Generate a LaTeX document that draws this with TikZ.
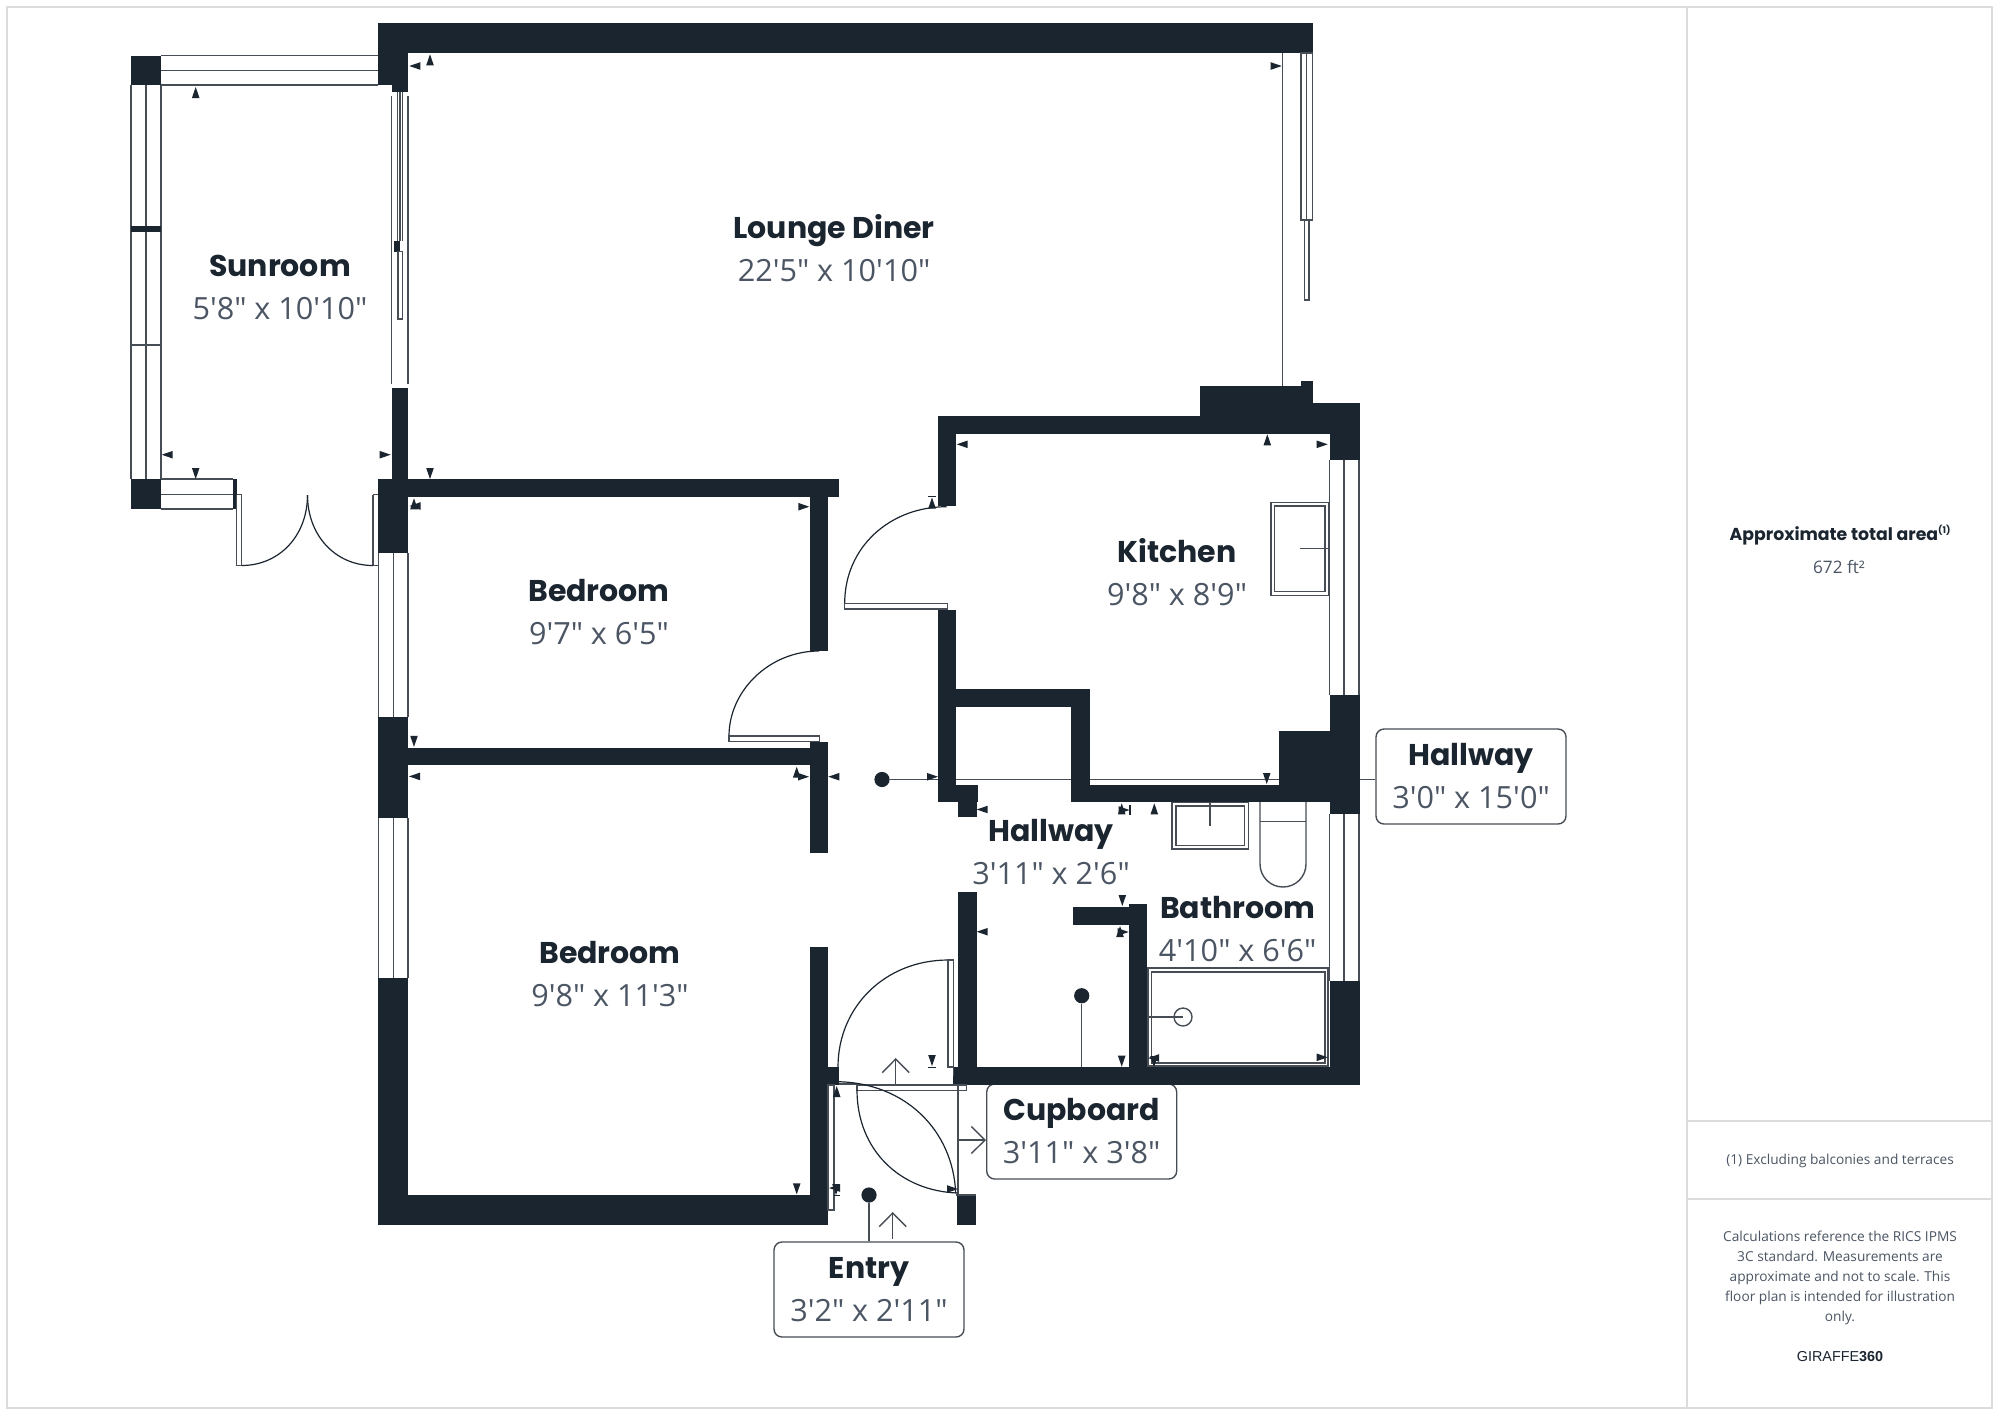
\documentclass[tikz,border=0pt]{standalone}
\usepackage{fontspec}
\usetikzlibrary{arrows.meta}
\setmainfont{Open Sans}
\newfontfamily\ttlfam{Poppins}
\newfontfamily\dimfam{Open Sans}
\newfontfamily\brandfam{Liberation Sans}
\definecolor{wallc}{HTML}{1B2530}
\definecolor{linec}{HTML}{474D55}
\definecolor{greytext}{HTML}{4B5563}
\definecolor{framec}{HTML}{DCDCDC}
\newcommand\ttl{\ttlfam\bfseries\fontsize{15}{21.5}\selectfont\color{wallc}}
\newcommand\dmn{\dimfam\fontsize{15.3}{21.5}\selectfont\color{greytext}}
\newcommand\roomtext[2]{{\ttl #1}\\{\dmn #2}}
\newcommand\wall[4]{\fill[wallc] (#1,#2) rectangle (#3,#4);}
\newcommand\tU[2]{\fill[wallc] (#1,#2) -- ++(-3.8,11) -- ++(7.6,0) -- cycle;}
\newcommand\tD[2]{\fill[wallc] (#1,#2) -- ++(-3.8,-11) -- ++(7.6,0) -- cycle;}
\newcommand\tL[2]{\fill[wallc] (#1,#2) -- ++(11,-3.8) -- ++(0,7.6) -- cycle;}
\newcommand\tR[2]{\fill[wallc] (#1,#2) -- ++(-11,-3.8) -- ++(0,7.6) -- cycle;}
\tikzset{
  ln/.style={draw=linec,line width=0.7pt},
  arcln/.style={draw=wallc,line width=0.6pt},
  frameln/.style={draw=framec,line width=1pt},
  tag/.style={draw=linec,line width=0.7pt,fill=white,rounded corners=4pt,align=center,inner sep=0pt,minimum width=95pt,minimum height=47.5pt,font=\fontsize{15.3}{21.5}\selectfont},
  room/.style={align=center,inner sep=0pt,font=\fontsize{15.3}{21.5}\selectfont},
  dot/.style={circle,fill=wallc,inner sep=0pt,minimum size=7.6pt},
  barb/.style={ln,-{Straight Barb[length=6.8pt,width=13.5pt,line width=0.7pt]}},
  note/.style={align=center,inner sep=0pt,color=greytext,font=\dimfam\fontsize{6.85}{9.9}\selectfont}
}
\begin{document}
\begin{tikzpicture}[x=0.5pt,y=-0.5pt]
\useasboundingbox (0,0) rectangle (2000,1415);
\fill[white] (0,0) rectangle (2000,1415);
% outer frame
\draw[frameln] (7,7) rectangle (1991.5,1408);
\draw[frameln] (1687,7) -- (1687,1408);
\draw[frameln] (1687,1121) -- (1991.5,1121);
\draw[frameln] (1687,1199) -- (1991.5,1199);
% labels
\node[tag] (hallwayTag) at (1471,776.5) {\roomtext{Hallway}{3'0" x 15'0"}};
\node[tag] (cupboardTag) at (1081.7,1131.5) {\roomtext{Cupboard}{3'11" x 3'8"}};
\node[tag] (entryTag) at (869,1289.5) {\roomtext{Entry}{3'2" x 2'11"}};
\node[room] (lounge) at (834,248.5) {\roomtext{Lounge Diner}{22'5" x 10'10"}};
\node[room] (sunroom) at (280,287) {\roomtext{Sunroom}{5'8" x 10'10"}};
\node[room] (bedroomA) at (599,612) {\roomtext{Bedroom}{9'7" x 6'5"}};
\node[room] (bedroomB) at (610,974) {\roomtext{Bedroom}{9'8" x 11'3"}};
\node[room] (kitchen) at (1177,572) {\roomtext{Kitchen}{9'8" x 8'9"}};
\node[room] (hallwayB) at (1051,852) {\roomtext{Hallway}{3'11" x 2'6"}};
\node[room] (bathroom) at (1237.7,929) {\roomtext{Bathroom}{4'10" x 6'6"}};
% connectors
\node[dot] (hallwayDot) at (882,779.5) {};
\node[dot] (cupDot) at (1081.7,995.7) {};
\node[dot] (entryDot) at (869,1195) {};
\coordinate (cupFoot) at (1081.7,1068);
\draw[ln] (hallwayDot) -- (hallwayDot -| hallwayTag.west);
\draw[ln] (cupDot) -- (cupFoot);
\draw[ln] (entryDot) -- (entryDot |- entryTag.north);
\coordinate (cupRailTop) at (958,1085);
\coordinate (cupRailEnd) at (958,1195);
\draw[ln] (cupRailTop) -- (cupRailEnd);
\coordinate (cupBranch) at (958,1140);
\draw[barb] (cupBranch) -- (cupBranch -| cupboardTag.west);
\coordinate (cupUpA) at (895.7,1085);
\coordinate (cupUpB) at (895.7,1058);
\draw[barb] (cupUpA) -- (cupUpB);
\coordinate (entUpA) at (892.7,1239);
\coordinate (entUpB) at (892.7,1212);
\draw[barb] (entUpA) -- (entUpB);
% walls
\wall{378}{23}{1313}{53}
\wall{378}{23}{408}{85}
\wall{391.5}{85}{408}{92}
\wall{131}{55.5}{161}{85}
\wall{131}{479}{161}{509}
\wall{233}{479}{236.5}{509}
\wall{391.5}{388}{408}{480}
\wall{378}{479}{408}{553}
\wall{408}{479}{839}{497}
\wall{378}{717}{408}{818}
\wall{378}{978}{408}{1225}
\wall{378}{1195}{828}{1225}
\wall{408}{748}{828}{765}
\wall{810}{497}{828}{651}
\wall{810}{742}{828}{853}
\wall{810}{947}{828}{1225}
\wall{828}{1067}{839}{1085}
\wall{938}{416}{956}{506}
\wall{938}{609.5}{956}{802}
\wall{938}{785}{977.5}{802}
\wall{958}{802}{976.5}{817}
\wall{938}{416}{1329}{434}
\wall{1200}{386}{1313}{434}
\wall{1300.7}{380.5}{1313}{390}
\wall{1300}{403}{1359.5}{434}
\wall{1329.5}{403}{1359.5}{460}
\wall{1329.5}{695}{1359.5}{814}
\wall{1279}{731}{1329.5}{802}
\wall{1071}{785}{1330}{802}
\wall{1071}{689}{1090}{802}
\wall{956}{689}{1090}{707}
\wall{1329.5}{981}{1359.5}{1085}
\wall{953}{1067}{1359.5}{1085}
\wall{958}{892}{976.5}{1067}
\wall{1129}{904}{1147}{1067}
\wall{1073}{907}{1129}{924.5}
\wall{956.7}{1195}{976}{1225}
% windows
\draw[ln] (161,55.5) -- (378,55.5) (161,70.5) -- (378,70.5) (161,85) -- (378,85);
\draw[ln] (131,85) -- (131,479) (146,85) -- (146,479) (161,85) -- (161,479);
\wall{131}{226}{161}{232}
\draw[ln] (131,345) -- (161,345);
\draw[ln] (161,479) -- (233,479) (161,494.5) -- (233,494.5) (161,509) -- (233,509);
\draw[ln] (378.5,553) -- (378.5,717) (393.5,553) -- (393.5,717) (408,553) -- (408,717);
\draw[ln] (378.5,818) -- (378.5,978) (393.5,818) -- (393.5,978) (408,818) -- (408,978);
\draw[ln] (1329.5,460) -- (1329.5,695) (1344,460) -- (1344,695) (1359,460) -- (1359,695);
\draw[ln] (1329.5,814) -- (1329.5,981) (1344,814) -- (1344,981) (1359,814) -- (1359,981);
% sliding door sunroom / lounge
\draw[ln] (391.7,96) -- (391.7,384) (408,96) -- (408,384);
\draw[ln] (397.7,92) -- (397.7,241) (400,92) -- (400,241) (402.3,92) -- (402.3,241);
\wall{394}{240.7}{400}{251.5}
\draw[ln] (398,251.5) rectangle (402.3,319);
% lounge right side
\draw[ln] (1282.7,53) -- (1282.7,386);
\draw[ln] (1301,53) rectangle (1312.5,220);
\draw[ln] (1306.7,53) -- (1306.7,220);
\draw[ln] (1304.5,220) rectangle (1309,300);
% sunroom french doors
\draw[ln] (236.5,494.5) -- (236.5,565.5) -- (241.5,565.5) -- (241.5,494.5) -- (236.5,494.5);
\draw[ln] (373,494.5) -- (373,565.5) -- (378,565.5) (373,494.5) -- (378,494.5);
\draw[arcln] (241.5,565.5) .. controls (280,565.5) and (307.5,535) .. (307.5,495);
\draw[arcln] (373,565.5) .. controls (335,565.5) and (307.5,535) .. (307.5,495);
% internal doors
\draw[arcln] (819,651) .. controls (769,651) and (729,691) .. (729,736);
\draw[ln,fill=white] (729,736) rectangle (819.3,741.5);
\draw[arcln] (946.7,506.7) .. controls (889,506.7) and (844.7,548) .. (844.7,603);
\draw[ln,fill=white] (844.7,603.5) rectangle (947.3,609);
\draw[arcln] (838,1067) .. controls (838,1006) and (886,960) .. (948,960);
\draw[ln] (948,960) rectangle (953.5,1067);
\draw[ln] (953.5,1067) -- (953.5,1076);
% cupboard door
\draw[ln] (857,1085) rectangle (966.7,1090.7);
\draw[ln] (839,1084) -- (857,1084);
\draw[arcln] (857,1090) .. controls (857,1150) and (900,1191) .. (957.7,1193);
\draw[arcln] (838,1081.7) .. controls (905,1083) and (953,1130) .. (955.7,1193);
\draw[ln] (828,1085) rectangle (834,1210);
\draw[ln] (956,1195) -- (976,1195);
% fixtures: kitchen sink
\draw[ln] (1271,502.3) rectangle (1329,595.3);
\draw[ln] (1274.7,506) rectangle (1325,591.3);
\draw[ln] (1300,548.7) -- (1329,548.7);
% bathroom sink
\draw[ln] (1172,802.7) rectangle (1248.7,849);
\draw[ln] (1176,806) rectangle (1244.7,845.7);
\draw[ln] (1210,803) -- (1210,826);
% toilet
\draw[ln] (1260,802) -- (1260,864) arc[start angle=180,end angle=0,radius=23] -- (1306,802);
\draw[ln] (1260,821.7) -- (1306,821.7);
% bath
\draw[ln] (1148,968) rectangle (1328,1066);
\draw[ln] (1151.7,972) rectangle (1325,1063);
\draw[ln] (1148,1017) -- (1183,1017);
\draw[ln] (1183,1017) circle[radius=9];
% dimension markers
\tU{195.7}{87}\tL{409.3}{66}\tU{430}{54.3}
\tL{161.7}{454.7}\tD{195.7}{479}\tR{390.7}{454.7}\tD{430}{479}
\tU{414}{498.3}\tL{409.5}{506}
\tR{809.3}{506.7}\tL{956.7}{444.3}\tU{932}{497.5}
\draw[draw=wallc,line width=0.7pt] (928,496.5) -- (936,496.5);
\tD{414}{746.8}\tL{409}{776.4}
\tU{796.7}{766.7}\tR{809}{776.7}\tL{828.3}{776.7}\tR{938}{776.7}\tL{976.7}{809.5}
\tU{1267.3}{434.3}\tR{1327.7}{444.3}\tR{1281.7}{66}
\tD{1266.7}{784}
\tU{1121.7}{803.3}\tR{1129.5}{810}\tU{1154.3}{803.3}
\draw[draw=wallc,line width=0.7pt] (1130,805) -- (1130,815);
\tD{1122.3}{906}\tU{1120}{926}\tR{1128.7}{932}\tL{976.7}{931.7}
\tD{1121.7}{1066.7}\tL{1148}{1058}\tD{1154}{1067}\tR{1327.7}{1057.3}
\tD{932}{1066}
\draw[draw=wallc,line width=0.7pt] (928,1067.7) -- (936,1067.7);
\tD{796.7}{1194.3}\tU{836.7}{1086}\tL{829}{1188}\tD{836}{1195}\tR{958}{1189}
\draw[draw=wallc,line width=0.5pt] (834,1195) -- (840,1195);
% side panel
\node[inner sep=0pt,anchor=base] (areaTitle) at (1840,540.7) {\ttlfam\bfseries\fontsize{8.65}{11}\selectfont\color{wallc}Approximate total area\raisebox{3.4pt}{\fontsize{4.6}{5}\selectfont(1)}};
\node[inner sep=0pt,anchor=base] (areaValue) at (1839,573) {\dimfam\fontsize{8.6}{11}\selectfont\color{greytext}672 ft²};
\node[note,anchor=base] (excl) at (1840,1164) {(1) Excluding balconies and terraces};
\node[note,anchor=north] (calc) at (1840,1231) {Calculations reference the RICS IPMS\\3C standard. Measurements are\\approximate and not to scale. This\\floor plan is intended for illustration\\only.};
\node[inner sep=0pt,anchor=base] (brand) at (1840,1361.7) {\brandfam\fontsize{7.2}{9}\selectfont\color{wallc}GIRAFFE\textbf{360}};
\end{tikzpicture}
\end{document}
